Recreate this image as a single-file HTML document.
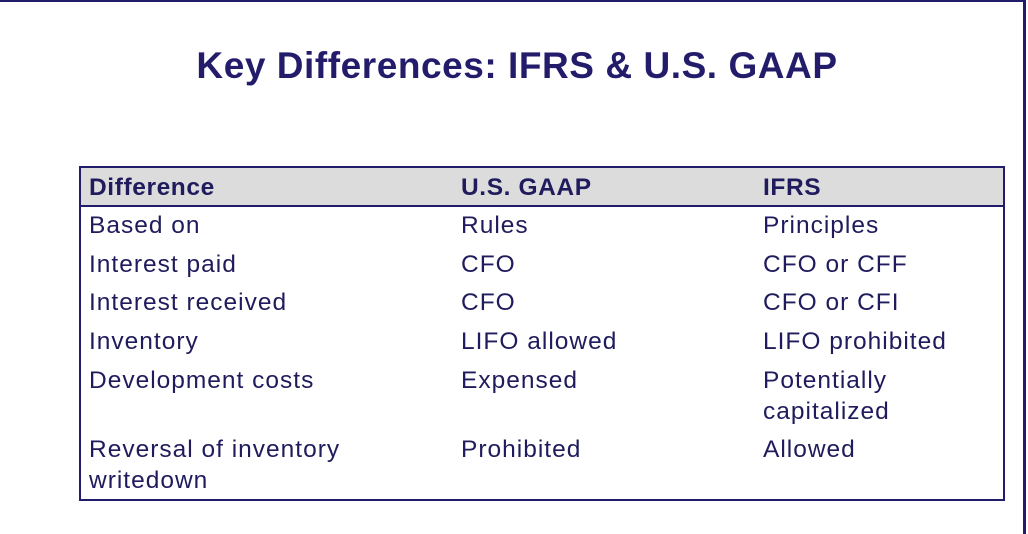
<!DOCTYPE html>
<html><head><meta charset="utf-8"><style>
body{margin:0;width:1028px;height:534px;background:#fff;position:relative;overflow:hidden;font-family:"Liberation Sans",sans-serif;color:#1f1b5c}
.frame-top{position:absolute;left:0;top:0;width:1026px;height:2px;background:#231c6b}
.frame-right{position:absolute;left:1023px;top:0;width:3px;height:534px;background:#231c6b}
h1{position:absolute;left:0;width:1034px;top:45px;margin:0;text-align:center;font-size:37px;font-weight:bold;color:#231c6b;letter-spacing:0.55px}
.table{position:absolute;left:79px;top:166px;width:922px;height:331px;border:2px solid #231c6b}
.head{position:absolute;left:0;top:0;width:922px;height:37px;background:#dcdcdc;border-bottom:2px solid #231c6b}
.c{position:absolute;font-size:24.5px;line-height:31px;white-space:nowrap;letter-spacing:1px;margin-top:1px}
.h{font-weight:bold;top:3px;letter-spacing:0.6px}
</style></head><body>
<div class="frame-top"></div>
<div class="frame-right"></div>
<h1>Key Differences: IFRS &amp; U.S. GAAP</h1>
<div class="table">
<div class="head">
<div class="c h" style="left:8px">Difference</div>
<div class="c h" style="left:380px">U.S. GAAP</div>
<div class="c h" style="left:682px">IFRS</div>
</div>
<div>
<div class="c" style="left:8px;top:41px">Based on</div><div class="c" style="left:380px;top:41px">Rules</div><div class="c" style="left:682px;top:41px">Principles</div></div>
<div>
<div class="c" style="left:8px;top:80px">Interest paid</div><div class="c" style="left:380px;top:80px">CFO</div><div class="c" style="left:682px;top:80px">CFO or CFF</div></div>
<div>
<div class="c" style="left:8px;top:118px">Interest received</div><div class="c" style="left:380px;top:118px">CFO</div><div class="c" style="left:682px;top:118px">CFO or CFI</div></div>
<div>
<div class="c" style="left:8px;top:157px">Inventory</div><div class="c" style="left:380px;top:157px">LIFO allowed</div><div class="c" style="left:682px;top:157px">LIFO prohibited</div></div>
<div>
<div class="c" style="left:8px;top:196px">Development costs</div><div class="c" style="left:380px;top:196px">Expensed</div><div class="c" style="left:682px;top:196px">Potentially<br>capitalized</div></div>
<div>
<div class="c" style="left:8px;top:265px">Reversal of inventory<br>writedown</div><div class="c" style="left:380px;top:265px">Prohibited</div><div class="c" style="left:682px;top:265px">Allowed</div></div>
</div>
</body></html>
